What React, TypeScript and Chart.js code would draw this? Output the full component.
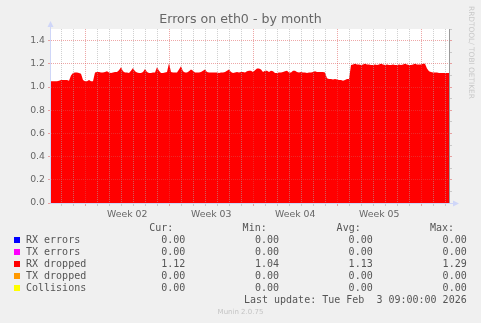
import React, { useEffect, useRef } from 'react';
import { Chart, registerables } from 'chart.js';

Chart.register(...registerables);

// ---------- data ----------
const TITLE = 'Errors on eth0 - by month';
// x axis is measured in days relative to Monday 5 Jan 2026 00:00 (start of Week 02)
const X_START_DAYS = -2.858;
const SAMPLE_STEP_DAYS = 1 / 6; // one sample every 4 hours

// RX dropped (packets/s), one value per 4 h sample
const rxDropped = [
  1.05, 1.05, 1.05, 1.05, 1.055, 1.06, 1.06, 1.06, 1.06, 1.055,
  1.10, 1.12, 1.125, 1.125, 1.12, 1.115, 1.06, 1.05, 1.05, 1.06,
  1.05, 1.05, 1.125, 1.13, 1.13, 1.125, 1.125, 1.13, 1.135, 1.125,
  1.12, 1.125, 1.13, 1.13, 1.145, 1.17, 1.135, 1.125, 1.125, 1.12,
  1.14, 1.165, 1.135, 1.125, 1.12, 1.12, 1.13, 1.155, 1.13, 1.12,
  1.12, 1.125, 1.125, 1.17, 1.14, 1.12, 1.12, 1.125, 1.13, 1.205,
  1.13, 1.125, 1.125, 1.125, 1.15, 1.18, 1.135, 1.125, 1.125, 1.135,
  1.15, 1.14, 1.125, 1.125, 1.125, 1.13, 1.14, 1.15, 1.13, 1.125,
  1.125, 1.125, 1.125, 1.125, 1.12, 1.125, 1.125, 1.13, 1.14, 1.15,
  1.13, 1.12, 1.125, 1.13, 1.125, 1.13, 1.13, 1.125, 1.135, 1.14,
  1.14, 1.13, 1.145, 1.16, 1.16, 1.15, 1.13, 1.14, 1.14, 1.13,
  1.14, 1.135, 1.12, 1.12, 1.125, 1.125, 1.13, 1.135, 1.14, 1.125,
  1.125, 1.14, 1.14, 1.13, 1.125, 1.13, 1.125, 1.125, 1.12, 1.125,
  1.125, 1.13, 1.135, 1.13, 1.13, 1.13, 1.13, 1.125, 1.075, 1.07,
  1.07, 1.065, 1.07, 1.065, 1.06, 1.06, 1.055, 1.06, 1.07, 1.07,
  1.19, 1.195, 1.20, 1.195, 1.195, 1.19, 1.195, 1.20, 1.195, 1.195,
  1.19, 1.19, 1.195, 1.19, 1.195, 1.20, 1.195, 1.19, 1.195, 1.19,
  1.19, 1.195, 1.19, 1.19, 1.195, 1.19, 1.195, 1.20, 1.195, 1.19,
  1.19, 1.195, 1.20, 1.195, 1.195, 1.195, 1.20, 1.20, 1.16, 1.135,
  1.13, 1.125, 1.125, 1.125, 1.12, 1.12, 1.12, 1.12, 1.12, 1.12,
];

const weekLabels = ['Week 02', 'Week 03', 'Week 04', 'Week 05'];
const weekCenters = [3.5, 10.5, 17.5, 24.5];
const yTickValues = [0, 0.1, 0.2, 0.3, 0.4, 0.5, 0.6, 0.7, 0.8, 0.9, 1.0, 1.1, 1.2, 1.3, 1.4, 1.5];
const Y_MAX = 1.5;

const legendNames = ['RX errors', 'TX errors', 'RX dropped', 'TX dropped', 'Collisions'];
const legendColors = ['#0000ff', '#ff00ff', '#ff0000', '#ff9900', '#ffff00'];
const curValues = ['0.00', '0.00', '1.12', '0.00', '0.00'];
const minValues = ['0.00', '0.00', '1.04', '0.00', '0.00'];
const avgValues = ['0.00', '0.00', '1.13', '0.00', '0.00'];
const maxValues = ['0.00', '0.00', '1.29', '0.00', '0.00'];
const columnHeaders = ['Cur:', 'Min:', 'Avg:', 'Max:'];
const LAST_UPDATE = 'Last update: Tue Feb  3 09:00:00 2026';
const VERSION = 'Munin 2.0.75';
const WATERMARK = 'RRDTOOL/ TOBI OETIKER';

// ---------- styling ----------
const W = 481;
const H = 323;
const BG = '#f0f0f0';
const FONT_COLOR = '#666666';
const MINOR = 'rgba(170,170,170,0.55)';
const MAJOR = 'rgba(222,79,79,0.5)';
const AXIS = '#cfd6f8';
const SANS = "'DejaVu Sans', sans-serif";
const MONO = "'DejaVu Sans Mono', monospace";

const X_END = X_START_DAYS + (rxDropped.length - 1) * SAMPLE_STEP_DAYS;
const xTickValues: number[] = [];
for (let d = Math.ceil(X_START_DAYS); d <= Math.floor(X_END); d++) xTickValues.push(d);
weekCenters.forEach((c) => xTickValues.push(c));
xTickValues.sort((a, b) => a - b);

const isWeekCenter = (v: number) => weekCenters.indexOf(v) >= 0;
const xGridColor = (v: number) =>
  isWeekCenter(v) ? 'rgba(0,0,0,0)' : Math.abs(v % 7) < 1e-9 ? MAJOR : MINOR;
const yGridColor = (v: number) => (Math.round(v * 10) % 2 === 0 ? MAJOR : MINOR);

const plotBackground = {
  id: 'plotBackground',
  beforeDraw(chart: any) {
    const { ctx, chartArea: a } = chart;
    ctx.save();
    ctx.fillStyle = '#ffffff';
    ctx.fillRect(a.left, a.top, a.right - a.left, a.bottom - a.top);
    ctx.restore();
  },
};

const axisArrows = {
  id: 'axisArrows',
  afterDraw(chart: any) {
    const { ctx, chartArea: a } = chart;
    const lx = a.left - 0.5;
    const by = a.bottom + 0.5;
    ctx.save();
    ctx.strokeStyle = AXIS;
    ctx.fillStyle = AXIS;
    ctx.lineWidth = 1;
    ctx.beginPath();
    ctx.moveTo(lx, by);
    ctx.lineTo(lx, a.top - 4);
    ctx.moveTo(lx, by);
    ctx.lineTo(a.right + 5, by);
    ctx.stroke();
    // top arrow
    ctx.beginPath();
    ctx.moveTo(lx, a.top - 8);
    ctx.lineTo(lx - 3, a.top - 2);
    ctx.lineTo(lx + 3, a.top - 2);
    ctx.closePath();
    ctx.fill();
    // right arrow
    ctx.beginPath();
    ctx.moveTo(a.right + 10, by);
    ctx.lineTo(a.right + 4, by - 3);
    ctx.lineTo(a.right + 4, by + 3);
    ctx.closePath();
    ctx.fill();
    ctx.restore();
  },
};

function LegendText(props: { text: string; cy: number; left?: number; right?: number; color?: string; size?: number; family?: string }) {
  const style: any = {
    position: 'absolute',
    top: props.cy - 6,
    lineHeight: '12px',
    height: 12,
    fontSize: props.size || 10,
    fontFamily: props.family || MONO,
    color: props.color || '#555555',
    whiteSpace: 'pre',
  };
  if (props.left !== undefined) style.left = props.left;
  if (props.right !== undefined) style.right = W - props.right;
  return <div style={style}>{props.text}</div>;
}

export default function App() {
  const canvasRef = useRef<HTMLCanvasElement | null>(null);

  useEffect(() => {
    if (!canvasRef.current) return;
    const points = rxDropped.map((v, i) => ({ x: X_START_DAYS + i * SAMPLE_STEP_DAYS, y: v }));
    const chart = new Chart(canvasRef.current, {
      type: 'line',
      data: {
        datasets: [
          {
            label: 'RX dropped',
            data: points,
            backgroundColor: '#ff0000',
            borderColor: '#ff0000',
            borderWidth: 0,
            pointRadius: 0,
            fill: 'origin',
            tension: 0,
          },
        ],
      },
      options: {
        responsive: false,
        animation: false,
        devicePixelRatio: 1,
        layout: { padding: { left: 0, right: 0, top: 0, bottom: 100 } },
        plugins: {
          legend: { display: false },
          tooltip: { enabled: false },
          title: {
            display: true,
            text: TITLE,
            color: FONT_COLOR,
            font: { family: SANS, size: 12.6, weight: 'normal' },
            padding: { top: 12, bottom: 1.9 },
          },
        },
        scales: {
          x: {
            type: 'linear',
            position: 'bottom',
            min: X_START_DAYS,
            max: X_END,
            bounds: 'data',
            afterBuildTicks: (s: any) => {
              s.ticks = xTickValues.map((v) => ({ value: v }));
            },
            afterFit: (s: any) => {
              s.height = 20;
            },
            ticks: {
              autoSkip: false,
              maxRotation: 0,
              minRotation: 0,
              padding: 3,
              color: FONT_COLOR,
              font: { family: SANS, size: 9.33 },
              callback: (v: any) => {
                const k = weekCenters.indexOf(v);
                return k >= 0 ? weekLabels[k] : '';
              },
            },
            grid: {
              z: 1,
              lineWidth: 1,
              tickLength: 3,
              color: (c: any) => xGridColor(c.tick ? c.tick.value : 0),
              tickColor: (c: any) => xGridColor(c.tick ? c.tick.value : 0),
            },
            border: { display: false, dash: [1, 1] },
          },
          y: {
            type: 'linear',
            position: 'left',
            min: 0,
            max: Y_MAX,
            bounds: 'data',
            afterBuildTicks: (s: any) => {
              s.ticks = yTickValues.map((v) => ({ value: v }));
            },
            afterFit: (s: any) => {
              s.width = 51;
            },
            ticks: {
              padding: 3,
              color: FONT_COLOR,
              font: { family: SANS, size: 9.33 },
              callback: (v: any) =>
                Math.round(v * 10) % 2 === 0 && v < Y_MAX - 0.05 ? Number(v).toFixed(1) : '',
            },
            grid: {
              z: 1,
              lineWidth: 1,
              tickLength: 3,
              color: (c: any) => yGridColor(c.tick ? c.tick.value : 0),
              tickColor: (c: any) => yGridColor(c.tick ? c.tick.value : 0),
            },
            border: { display: false, dash: [1, 1] },
          },
          y2: {
            type: 'linear',
            position: 'right',
            min: 0,
            max: Y_MAX,
            bounds: 'data',
            afterBuildTicks: (s: any) => {
              s.ticks = yTickValues.map((v) => ({ value: v }));
            },
            afterFit: (s: any) => {
              s.width = 32;
            },
            ticks: { display: false },
            grid: {
              drawOnChartArea: false,
              tickLength: 3,
              tickColor: (c: any) => yGridColor(c.tick ? c.tick.value : 0),
            },
            border: { display: true, color: '#9a9a9a', width: 1 },
          },
        },
      } as any,
      plugins: [plotBackground, axisArrows],
    });
    return () => chart.destroy();
  }, []);

  const rowY = [239.7, 251.7, 263.6, 275.7, 287.7];
  const headerRight = [173.3, 266.7, 360.7, 454];
  const valueRight = [185.3, 279, 372.7, 466.7];
  const columns = [curValues, minValues, avgValues, maxValues];

  return (
    <div style={{ position: 'absolute', left: 0, top: 0, width: W, height: H, background: BG, overflow: 'hidden' }}>
      <canvas
        ref={canvasRef}
        width={W}
        height={H}
        style={{ position: 'absolute', left: 0, top: 0, width: W, height: H }}
      />
      <div
        style={{
          position: 'absolute',
          left: 467,
          top: 6,
          writingMode: 'vertical-rl',
          fontSize: 7.4,
          lineHeight: '9px',
          fontFamily: SANS,
          color: '#c8c8c8',
          whiteSpace: 'pre',
        }}
      >
        {WATERMARK}
      </div>
      {columnHeaders.map((h, i) => (
        <LegendText key={'h' + i} text={h} cy={227.7} right={headerRight[i]} />
      ))}
      {legendNames.map((name, r) => (
        <React.Fragment key={'r' + r}>
          <div
            style={{
              position: 'absolute',
              left: 14,
              top: rowY[r] - 3,
              width: 6,
              height: 6,
              background: legendColors[r],
            }}
          />
          <LegendText text={name} cy={rowY[r]} left={26} />
          {columns.map((col, c) => (
            <LegendText key={'c' + c} text={col[r]} cy={rowY[r]} right={valueRight[c]} />
          ))}
        </React.Fragment>
      ))}
      <LegendText text={LAST_UPDATE} cy={299.7} right={466.7} />
      <div
        style={{
          position: 'absolute',
          left: 0,
          width: W,
          top: 308,
          textAlign: 'center',
          fontSize: 7,
          lineHeight: '9px',
          fontFamily: SANS,
          color: '#c4c4c4',
        }}
      >
        {VERSION}
      </div>
    </div>
  );
}
